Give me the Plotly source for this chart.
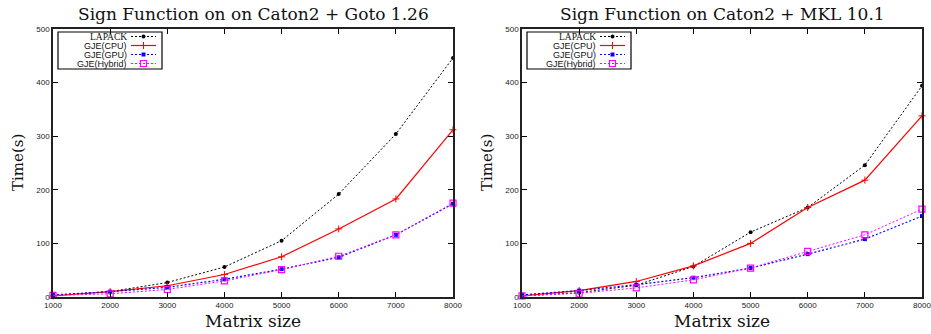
import plotly.graph_objects as go

# ---------------- data ----------------
sizes = [1000, 2000, 3000, 4000, 5000, 6000, 7000, 8000]

goto_lapack = [3, 10, 27, 56, 105, 192, 304, 446]
goto_cpu = [2, 10, 21, 42, 75, 127, 183, 312]
goto_gpu = [4, 10, 18, 33, 52, 74, 116, 174]
goto_hybrid = [3, 6, 14, 30, 51, 76, 116, 175]

mkl_lapack = [2, 8, 22, 57, 121, 167, 246, 394]
mkl_cpu = [2, 12, 29, 58, 100, 167, 218, 338]
mkl_gpu = [4, 12, 23, 36, 54, 80, 108, 151]
mkl_hybrid = [2, 7, 17, 32, 54, 85, 116, 164]

titles = ["Sign Function on on Caton2 + Goto 1.26", "Sign Function on Caton2 + MKL 10.1"]
series_names = ["LAPACK", "GJE(CPU)", "GJE(GPU)", "GJE(Hybrid)"]
y_ticks = [0, 100, 200, 300, 400, 500]

# ---------------- geometry (pixels) ----------------
W, H = 931, 334
ML, MR, MT, MB = 53, 9, 29, 37
PW, PH = W - ML - MR, H - MT - MB
LEFT_X0, LEFT_X1 = 53, 453
RIGHT_X0, RIGHT_X1 = 522, 922


def px(x):
    return (x - ML) / PW


def py(y):
    return (H - MB - y) / PH


styles = [
    dict(line=dict(color="black", width=1, dash="2px,2px"),
         marker=dict(symbol="circle", size=4, color="black")),
    dict(line=dict(color="#ff0000", width=1.2),
         marker=dict(symbol="cross-thin", size=5, line=dict(color="#ff0000", width=1))),
    dict(line=dict(color="#0000ff", width=1.2, dash="2px,2px"),
         marker=dict(symbol="square", size=4, color="#0000ff")),
    dict(line=dict(color="#ff00ff", width=1, dash="2px,2px"),
         marker=dict(symbol="square-open", size=6, color="#ff00ff", line=dict(width=1.2))),
]

fig = go.Figure()

datasets = [
    [goto_lapack, goto_cpu, goto_gpu, goto_hybrid],
    [mkl_lapack, mkl_cpu, mkl_gpu, mkl_hybrid],
]

for i, ds in enumerate(datasets):
    xa = "x" if i == 0 else "x2"
    ya = "y" if i == 0 else "y2"
    for name, vals, st in zip(series_names, ds, styles):
        fig.add_trace(go.Scatter(
            x=sizes, y=vals, mode="lines+markers", name=name,
            line=st["line"], marker=st["marker"], xaxis=xa, yaxis=ya,
            showlegend=False, cliponaxis=False,
        ))

axis_common = dict(
    showline=True, linecolor="#222", linewidth=1.5, mirror="ticks",
    ticks="inside", ticklen=5, tickwidth=1, tickcolor="black",
    showgrid=False, zeroline=False, automargin=False, ticklabeloverflow="allow",
    tickfont=dict(family="Liberation Sans, Arial, sans-serif", size=8, color="#222"),
)

fig.update_layout(
    width=W, height=H,
    margin=dict(l=ML, r=MR, t=MT, b=MB, autoexpand=False),
    paper_bgcolor="white", plot_bgcolor="rgba(0,0,0,0)",
    showlegend=False,
    xaxis=dict(domain=[px(LEFT_X0), px(LEFT_X1)], range=[1000, 8000],
               tickvals=sizes, anchor="y", **axis_common),
    yaxis=dict(domain=[0, 1], range=[0, 500], tickvals=y_ticks, anchor="x", **axis_common),
    xaxis2=dict(domain=[px(RIGHT_X0), px(RIGHT_X1)], range=[1000, 8000],
                tickvals=sizes, anchor="y2", **axis_common),
    yaxis2=dict(domain=[0, 1], range=[0, 500], tickvals=y_ticks, anchor="x2", **axis_common),
    # pixel overlay axes for the hand-built legends
    xaxis3=dict(domain=[0, 1], range=[ML, W - MR], visible=False, anchor="y3",
                fixedrange=True, automargin=False),
    yaxis3=dict(domain=[0, 1], range=[H - MB, MT], visible=False, anchor="x3",
                fixedrange=True, automargin=False),
)

serif = "DejaVu Serif, serif"
sans = "Liberation Sans, Arial, sans-serif"

annotations = []
shapes = []

for i, (x0, x1) in enumerate([(LEFT_X0, LEFT_X1), (RIGHT_X0, RIGHT_X1)]):
    cx = (x0 + x1) / 2
    annotations.append(dict(text=titles[i], x=px(cx), y=py(14), xref="paper", yref="paper",
                            showarrow=False, xanchor="center", yanchor="middle",
                            font=dict(family=serif, size=17, color="#111")))
    annotations.append(dict(text="Matrix size", x=px(cx), y=py(321), xref="paper", yref="paper",
                            showarrow=False, xanchor="center", yanchor="middle",
                            font=dict(family=serif, size=17, color="#111")))
    annotations.append(dict(text="Time(s)", x=px(x0 - 35), y=py(163), xref="paper", yref="paper",
                            showarrow=False, xanchor="center", yanchor="middle", textangle=-90,
                            font=dict(family=serif, size=15, color="#111")))

    # legend box
    bx0, bx1, by0, by1 = x0 + 5, x0 + 109, 32, 69
    shapes.append(dict(type="rect", xref="x3", yref="y3", x0=bx0, x1=bx1, y0=by0, y1=by1,
                       line=dict(color="black", width=1.2)))
    text_right = x0 + 75
    l0, l1 = x0 + 78, x0 + 103
    rows = [36.5, 45.5, 54.5, 63.5]
    for name, st, ry in zip(series_names, styles, rows):
        fnt = dict(family="Liberation Serif, serif" if name == "LAPACK" else sans,
                   size=9.5 if name == "LAPACK" else 9, color="#111")
        annotations.append(dict(text=name, x=text_right, y=ry, xref="x3", yref="y3",
                                showarrow=False, xanchor="right", yanchor="middle", font=fnt,
                                borderpad=0))
        fig.add_trace(go.Scatter(x=[l0, l1], y=[ry, ry], mode="lines", line=st["line"],
                                 xaxis="x3", yaxis="y3", showlegend=False, hoverinfo="skip"))
        fig.add_trace(go.Scatter(x=[(l0 + l1) / 2], y=[ry], mode="markers", marker=st["marker"],
                                 xaxis="x3", yaxis="y3", showlegend=False, hoverinfo="skip"))

fig.update_layout(annotations=annotations, shapes=shapes)

fig.write_html("out.html", config={"displayModeBar": False},
               post_script="document.body.style.margin='0';document.body.style.overflow='hidden';")
